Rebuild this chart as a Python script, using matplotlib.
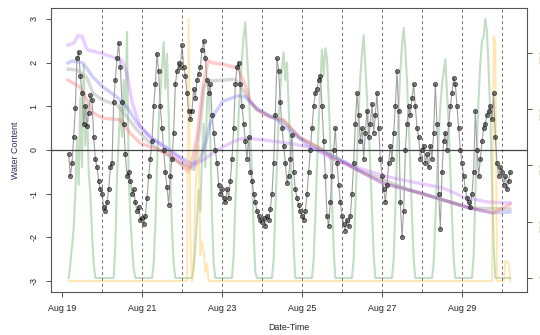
import numpy as np
import pandas as pd
import matplotlib
matplotlib.use("Agg")
import matplotlib.pyplot as plt
import matplotlib.dates as mdates

plt.rcParams['font.family'] = ['Liberation Sans', 'DejaVu Sans']

# ---------------- data ----------------
origin = pd.Timestamp("2015-08-19 00:00")
hourly_start = pd.Timestamp("2015-08-19 04:00")

# sensor readings (black points), hourly
sensor_aug19 = [-0.1, -0.6, -0.3, 0.3, 0.95, 2.1, 2.25, 1.7, 1.3, 0.6, 1.0, 0.55, 0.85, 1.25, 1.15, 0.3, -0.2, -0.4, -0.7, -0.9]
sensor_aug20 = [-1.0, -1.3, -1.4, -1.2, -0.9, -0.4, -0.3, 1.1, 1.6, 2.1, 2.45, 1.9, 1.1, 0.6, -0.1, -0.6, -0.5, -0.7, -1.0, -0.9, -1.2, -1.4, -1.3, -1.6]
sensor_aug21 = [-1.55, -1.7, -1.5, -1.1, -0.6, -0.2, 0.2, 1.0, 1.5, 2.2, 1.8, 1.0, 0.5, 0.0, -0.5, -0.85, -1.25, -0.6, -0.2, 0.4, 1.5, 1.8, 2.0, 1.9]
sensor_aug22 = [2.4, 1.9, 1.7, 1.3, 0.9, 0.7, 0.9, 1.4, 1.2, 1.6, 1.75, 1.9, 2.3, 2.5, 2.1, 1.6, 1.3, 1.5, 0.8, 0.4, 0.0, -0.3, -0.8, -1.0]
sensor_aug23 = [-0.9, -1.1, -1.2, -0.9, -1.1, -0.7, -0.2, 0.5, 1.5, 1.9, 2.0, 1.5, 1.0, 0.6, 0.2, -0.2, 0.3, -0.5, -0.7, -1.0, -1.2, -1.4, -1.5, -1.6]
sensor_aug24 = [-1.65, -1.55, -1.75, -1.5, -1.6, -1.35, -1.0, -0.3, 0.8, 2.1, 1.8, 1.1, 0.5, 0.1, -0.3, -0.75, -0.6, -0.2, 0.35, -0.5, -0.9, -1.1, -1.25, -1.4]
sensor_aug25 = [-1.5, -1.6, -1.4, -1.0, -0.5, 0.0, 0.5, 1.0, 1.3, 1.4, 1.6, 1.7, 1.0, 0.2, -0.6, -1.5, -1.75, -1.2, -0.6, 0.0, 0.5, -0.3, -0.8, -1.2]
sensor_aug26 = [-1.5, -1.7, -1.85, -1.6, -1.75, -1.5, -1.0, -0.3, 0.6, 1.3, 0.8, 0.2, 0.5, -0.2, 0.4, 0.9, 0.3, 0.6, 1.05, 0.4, 0.8, 1.3, 0.5, -0.2]
sensor_aug27 = [-0.6, -0.9, -1.2, -0.8, -0.3, 0.1, -0.2, 0.4, 1.0, 1.8, 0.9, -1.2, -2.0, -1.4, 0.0, 0.6, 1.0, 0.8, 1.2, 1.5, 1.0, 0.5, 0.3, -0.2]
sensor_aug28 = [0.0, 0.1, -0.3, -0.1, -0.4, 0.1, -0.2, 0.4, 1.5, 0.6, -1.0, -1.8, -0.5, 0.2, 0.4, 0.0, 0.6, 1.0, 1.3, 1.65, 1.5, 1.0, 0.5, 0.0]
sensor_aug29 = [-0.3, -0.6, -0.9, -1.1, -1.2, -1.3, -1.0, -0.5, 0.9, 0.0, -0.6, -0.2, 0.2, 0.5, 0.6, 0.8, 0.9, 1.0, 0.7, 1.3, 0.3, -0.3, -0.6, -0.4]
sensor_aug30 = [-0.5, -0.8, -0.6, -0.9, -0.7, -0.5]

# solar radiation (green, right axis, W/m2), hourly
solar_aug19 = [0, 51, 113, 175, 300, 502, 331, 641, 393, 758, 471, 610, 377, 300, 160, 51, 0, 0, 0, 0]
solar_aug20 = [0, 0, 0, 0, 0, 0, 0, 0, 113, 362, 486, 626, 502, 704, 595, 875, 362, 222, 113, 35, 0, 0, 0, 0]
solar_aug21 = [0, 0, 0, 0, 0, 0, 0, 51, 191, 393, 548, 657, 750, 839, 673, 797, 579, 362, 175, 51, 0, 0, 0, 0]
solar_aug22 = [0, 0, 0, 0, 0, 0, 0, 35, 113, 206, 315, 237, 424, 548, 393, 626, 688, 502, 222, 51, 0, 0, 0, 0]
solar_aug23 = [0, 0, 0, 0, 0, 0, 0, 82, 269, 408, 579, 688, 781, 859, 910, 797, 688, 517, 377, 160, 20, 0, 0, 0]
solar_aug24 = [0, 0, 0, 0, 0, 0, 0, 67, 237, 408, 564, 673, 750, 803, 704, 766, 610, 455, 300, 113, 0, 0, 0, 0]
solar_aug25 = [0, 0, 0, 0, 0, 0, 0, 67, 222, 393, 548, 688, 812, 719, 817, 781, 641, 471, 284, 98, 0, 0, 0, 0]
solar_aug26 = [0, 0, 0, 0, 0, 0, 0, 67, 253, 424, 595, 719, 797, 864, 750, 641, 533, 393, 237, 82, 0, 0, 0, 0]
solar_aug27 = [0, 0, 0, 0, 0, 0, 0, 67, 253, 439, 610, 735, 828, 889, 812, 704, 548, 393, 222, 67, 0, 0, 0, 0]
solar_aug28 = [0, 0, 0, 0, 0, 0, 0, 51, 206, 362, 502, 610, 688, 735, 778, 657, 548, 377, 222, 67, 0, 0, 0, 0]
solar_aug29 = [0, 0, 0, 0, 0, 0, 0, 82, 300, 486, 641, 766, 843, 859, 921, 875, 735, 579, 331, 113, 0, 0, 0, 0]
solar_aug30 = [0, 0, 0, 0, 0, 0]

# rain (yellow, scaled), baseline and event hours (hours after Aug 19 00:00)
rain_base = -3.0
rain_event_hours = [76, 77, 79, 80, 81, 82, 83, 84, 85, 86, 87, 259, 260, 266, 267, 268]
rain_event_values = [3.0, -2.0, -2.5, -1.0, -0.3, 0.1, -2.4, -2.1, -2.3, -2.8, -2.6, 2.6, 2.45, -2.55, -2.55, -2.6]

# smooth water-content curves (hours after Aug 19 00:00)
violet_hours = [3.6, 7.2, 9.6, 12.0, 14.4, 15.6, 22.8, 28.8, 36.0, 39.0, 42.0, 46.8, 52.8, 61.8, 70.8, 76.8, 82.8, 90.6, 96.6, 105.0, 109.8, 120.6, 136.8, 150.6, 160.8, 177.0, 193.8, 208.8, 228.6, 240.6, 255.0, 268.8]
violet_vals = [2.40, 2.45, 2.62, 2.60, 2.35, 2.29, 2.22, 2.15, 2.05, 1.75, 1.10, 0.55, 0.30, 0.05, -0.20, -0.39, -0.28, -0.07, 0.07, 0.23, 0.27, 0.23, 0.15, 0.05, -0.18, -0.40, -0.60, -0.72, -0.87, -1.07, -1.19, -1.21]

blue_hours = [3.6, 6.0, 12.6, 18.6, 24.6, 33.0, 39.0, 45.0, 52.8, 63.0, 70.8, 78.0, 82.8, 86.4, 88.8, 91.8, 96.6, 105.6, 109.8, 117.0, 129.0, 138.6, 148.8, 159.0, 168.6, 177.0, 192.6, 202.8, 214.8, 228.6, 244.8, 258.6, 268.8]
blue_vals = [1.99, 2.04, 1.99, 1.67, 1.44, 1.21, 0.98, 0.62, 0.30, 0.05, -0.16, -0.32, -0.22, 0.20, 0.60, 0.85, 1.12, 1.24, 1.22, 0.95, 0.69, 0.38, 0.07, -0.08, -0.25, -0.45, -0.76, -0.87, -0.98, -1.14, -1.33, -1.44, -1.42]

red_hours = [3.6, 10.8, 15.0, 18.6, 24.6, 34.8, 40.8, 46.8, 54.6, 64.8, 70.8, 75.6, 78.0, 81.0, 84.6, 87.6, 90.0, 97.8, 105.6, 109.8, 112.8, 117.0, 124.8, 132.6, 142.8, 154.8, 160.8, 177.0, 192.6, 208.8, 228.6, 244.8, 258.6, 268.8]
red_vals = [1.60, 1.44, 1.14, 0.85, 0.73, 0.69, 0.39, 0.16, 0.05, -0.11, -0.30, -0.50, -0.25, 0.30, 1.44, 2.05, 2.00, 1.95, 1.87, 1.50, 1.14, 0.92, 0.76, 0.69, 0.28, 0.04, -0.15, -0.45, -0.76, -0.92, -1.14, -1.33, -1.44, -1.24]

gray_hours = [3.6, 9.0, 15.0, 18.6, 24.6, 33.0, 39.0, 45.0, 52.8, 63.0, 70.8, 79.2, 82.8, 85.2, 88.8, 103.8, 106.8, 112.8, 117.0, 124.8, 132.6, 142.8, 154.8, 177.0, 208.8, 244.8, 268.8]
gray_vals = [1.85, 1.83, 1.65, 1.30, 1.14, 1.03, 0.76, 0.46, 0.16, -0.11, -0.30, -0.45, 0.50, 1.45, 1.58, 1.62, 1.50, 1.10, 0.92, 0.76, 0.68, 0.28, 0.04, -0.45, -0.92, -1.33, -1.35]

midnights = pd.date_range("2015-08-20", "2015-08-30", freq="D")
xtick_dates = pd.date_range("2015-08-19", "2015-08-29", freq="2D")
left_ticks = [-3, -2, -1, 0, 1, 2, 3]
right_ticks = [0, 200, 400, 600, 800]
right_labels = ["0", "200", "400", "600", "800"]

# ---------------- assemble ----------------
sensor = np.array(sensor_aug19 + sensor_aug20 + sensor_aug21 + sensor_aug22 + sensor_aug23 + sensor_aug24 +
                  sensor_aug25 + sensor_aug26 + sensor_aug27 + sensor_aug28 + sensor_aug29 + sensor_aug30)
solar = np.array(solar_aug19 + solar_aug20 + solar_aug21 + solar_aug22 + solar_aug23 + solar_aug24 +
                 solar_aug25 + solar_aug26 + solar_aug27 + solar_aug28 + solar_aug29 + solar_aug30, dtype=float)
t_hourly = pd.date_range(hourly_start, periods=len(sensor), freq="h")
rain = np.full(len(sensor), rain_base)
start_hour = 4
for h, v in zip(rain_event_hours, rain_event_values):
    rain[h - start_hour] = v

def to_time(hours):
    return origin + pd.to_timedelta(np.array(hours), unit="h")

# ---------------- plot ----------------
W, H = 540, 335
fig = plt.figure(figsize=(W / 100, H / 100), dpi=100)
L, R, T, B = 51, 527, 8, 292
ax = fig.add_axes([L / W, 1 - B / H, (R - L) / W, (B - T) / H])
ax2 = ax.twinx()
ax.set_zorder(ax2.get_zorder() + 1)
ax.patch.set_visible(False)

fs = 6.4
axcol = "#555555"

# green on right axis (beneath)
ax2.plot(t_hourly, solar, color="#3a8f3a", alpha=0.3, lw=1.5, zorder=1)
ax2.set_ylim(-49.8, 960)
ax2.set_yticks(right_ticks)
ax2.set_yticklabels(right_labels)
ax2.tick_params(axis="y", direction="out", length=3.6, width=0.7, color=axcol,
                labelcolor="#e8cc98", labelsize=fs, labelrotation=90, pad=4.5)
for s in ax2.spines.values():
    s.set_visible(False)

# colored smooth lines
lw_c = 2.4
ax.plot(to_time(gray_hours), gray_vals, color="#999999", alpha=0.38, lw=lw_c, zorder=2)
ax.plot(to_time(red_hours), red_vals, color="#ff5050", alpha=0.3, lw=lw_c, zorder=2)
ax.plot(to_time(blue_hours), blue_vals, color="#5050ff", alpha=0.28, lw=lw_c, zorder=2)
ax.plot(to_time(violet_hours), violet_vals, color="#b050ff", alpha=0.28, lw=lw_c, zorder=2)

# rain
ax.plot(t_hourly, rain, color="#ffc445", alpha=0.4, lw=1.4, zorder=3)

# sensor points
ax.plot(t_hourly, sensor, color="#a0a0a0", lw=0.8, zorder=4)
ax.plot(t_hourly, sensor, ls="none", marker="o", markersize=3.1,
        markerfacecolor=(0, 0, 0, 0.5), markeredgecolor=(0, 0, 0, 0.65),
        markeredgewidth=0.5, zorder=5)

# reference lines
for m in midnights:
    ax.axvline(m, color="#6a6a6a", lw=0.7, ls=(0, (3, 3)), zorder=6)
ax.axhline(0, color="#444444", lw=0.9, zorder=6)

# axes
x0 = origin + pd.Timedelta(hours=-6.6)
x1 = origin + pd.Timedelta(hours=279)
ax.set_xlim(x0, x1)
ax.set_ylim(-3.25, 3.25)
ax.set_xticks(xtick_dates)
ax.xaxis.set_major_formatter(mdates.DateFormatter("%b %d"))
ax.set_yticks(left_ticks)
ax.set_yticklabels([str(v) for v in left_ticks])
ax.tick_params(axis="x", direction="out", length=3.6, width=0.7, color=axcol,
               labelsize=fs, pad=5, labelcolor="#222222")
ax.tick_params(axis="y", direction="out", length=3.6, width=0.7, color=axcol,
               labelsize=fs, pad=5.2, labelrotation=90, labelcolor="#222222")
for lab in ax.get_yticklabels():
    lab.set_va("center")
for s in ax.spines.values():
    s.set_color(axcol)
    s.set_linewidth(0.8)

fig.text(15 / W, 1 - 150 / H, "Water Content", rotation=90, ha="center", va="center",
         fontsize=fs, color="#2a2a5a")
fig.text(289 / W, 1 - 328 / H, "Date-Time", ha="center", va="center",
         fontsize=fs, color="#222222")

fig.savefig("out.png", dpi=100)
